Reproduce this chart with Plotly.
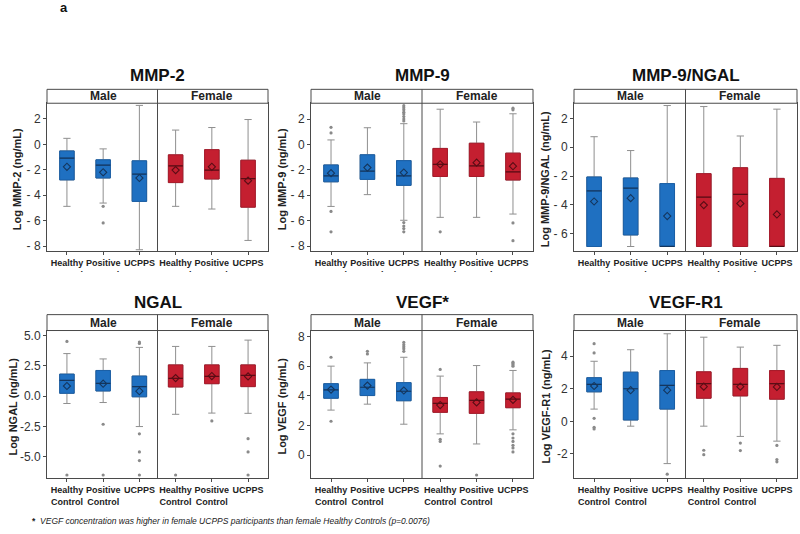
import plotly.graph_objects as go

# ---------------- data ----------------
CATEGORIES = ["Healthy<br>Control", "Positive<br>Control", "UCPPS",
              "Healthy<br>Control", "Positive<br>Control", "UCPPS"]
POSITIONS = [0, 1, 2, 3, 4, 5]
SEXES = ["Male", "Female"]
PANEL_TITLES = ["MMP-2", "MMP-9", "MMP-9/NGAL", "NGAL", "VEGF*", "VEGF-R1"]
Y_TITLES = ["Log MMP-2 (ng/mL)", "Log MMP-9 (ng/mL)", "Log MMP-9/NGAL (ng/mL)",
            "Log NGAL (ng/mL)", "Log VEGF (ng/mL)", "Log VEGF-R1 (ng/mL)"]

# order: Male HC, Male PC, Male UCPPS, Female HC, Female PC, Female UCPPS
mmp2_q1 = [-2.80, -2.65, -4.49, -3.01, -2.73, -4.94]
mmp2_med = [-1.09, -1.64, -2.34, -1.69, -2.03, -2.70]
mmp2_q3 = [-0.52, -1.22, -1.30, -0.83, -0.42, -1.25]
mmp2_lo = [-4.88, -4.62, -8.29, -4.88, -5.09, -7.56]
mmp2_hi = [0.47, -0.36, 3.06, 1.12, 1.32, 1.95]
mmp2_mean = [-1.77, -2.20, -2.65, -2.03, -1.77, -2.86]
mmp2_out = [[], [-4.88, -6.18], [], [], [], []]

mmp9_q1 = [-2.94, -2.75, -3.22, -2.52, -2.52, -2.80]
mmp9_med = [-2.47, -2.10, -2.47, -1.56, -1.69, -2.16]
mmp9_q3 = [-1.61, -0.81, -1.27, -0.31, 0.10, -0.68]
mmp9_lo = [-4.88, -3.95, -5.97, -5.74, -5.74, -5.48]
mmp9_hi = [0.36, 1.32, 1.64, 2.78, 1.77, 2.42]
mmp9_mean = [-2.26, -1.82, -2.21, -1.56, -1.43, -1.71]
mmp9_out = [[1.35, 0.91, -5.27, -6.88], [],
            [3.06, 2.90, 2.73, 2.55, 2.40, 2.20, 2.00, 1.85, -6.15, -6.42, -6.62, -6.88],
            [-6.88], [], [2.86, 2.73, -6.18, -7.58]]

ratio_q1 = [-6.88, -6.08, -6.88, -6.88, -6.88, -6.88]
ratio_med = [-3.03, -2.84, -6.88, -3.46, -3.26, -6.88]
ratio_q3 = [-2.06, -2.13, -2.52, -1.83, -1.42, -2.16]
ratio_lo = [-6.88, -6.88, -6.88, -6.88, -6.88, -6.88]
ratio_hi = [0.73, -0.23, 2.89, 2.82, 0.78, 2.64]
ratio_mean = [-3.76, -3.53, -4.77, -4.01, -3.90, -4.66]
ratio_out = [[], [], [], [], [], []]

ngal_q1 = [0.24, 0.43, -0.05, 0.76, 1.03, 0.79]
ngal_med = [1.30, 1.06, 0.79, 1.47, 1.63, 1.71]
ngal_q3 = [1.82, 2.12, 1.66, 2.58, 2.58, 2.58]
ngal_lo = [-0.60, -0.52, -2.50, -1.49, -1.39, -1.41]
ngal_hi = [3.51, 3.07, 4.02, 4.10, 4.10, 4.62]
ngal_mean = [0.84, 1.03, 0.41, 1.49, 1.66, 1.63]
ngal_out = [[4.51, -6.49], [-2.31, -6.49], [4.46, 4.35, -3.10, -4.59, -5.30, -6.49],
            [-6.49], [-2.04], [-3.50, -4.59, -6.49]]

vegf_q1 = [3.84, 4.02, 3.67, 2.89, 2.82, 3.20]
vegf_med = [4.40, 4.58, 4.31, 3.49, 3.69, 3.78]
vegf_q3 = [4.82, 5.11, 4.89, 3.89, 4.27, 4.20]
vegf_lo = [3.04, 3.44, 2.09, 1.44, 0.76, 1.71]
vegf_hi = [6.00, 6.22, 6.60, 5.33, 6.04, 5.71]
vegf_mean = [4.42, 4.69, 4.36, 3.38, 3.56, 3.73]
vegf_out = [[6.60, 2.29], [7.00, 6.82], [7.60, 7.44, 7.30, 7.18, 7.00],
            [5.78, 1.07, 0.93, -0.73], [-1.33],
            [6.27, 6.18, 6.09, 6.00, 1.44, 1.16, 0.93, 0.67, 0.49, 0.22]]

vegfr1_q1 = [1.81, 0.08, 0.75, 1.42, 1.56, 1.36]
vegfr1_med = [2.27, 2.00, 2.21, 2.31, 2.27, 2.31]
vegfr1_q3 = [2.68, 3.02, 3.12, 3.04, 3.25, 3.12]
vegfr1_lo = [0.75, -0.30, -2.60, -0.30, -0.93, -1.22]
vegfr1_hi = [3.69, 4.40, 5.38, 5.17, 4.56, 4.67]
vegfr1_mean = [2.17, 1.91, 1.91, 2.13, 2.13, 2.11]
vegfr1_out = [[4.77, 4.20, 0.18, -0.37, -0.47], [], [-3.25], [-1.78, -2.05],
              [-1.34, -1.80], [-1.48, -2.35, -2.49]]

Y_RANGES = [[-8.4, 3.23], [-8.4, 3.25], [-7.2, 3.05],
            [-6.77, 5.41], [-1.56, 8.4], [-3.51, 5.58]]
Y_TICKVALS = [[2, 0, -2, -4, -6, -8], [2, 0, -2, -4, -6, -8], [2, 0, -2, -4, -6],
              [5, 2.5, 0, -2.5, -5], [8, 6, 4, 2, 0], [4, 2, 0, -2]]
Y_TICKTEXT = [["2", "0", "- 2", "- 4", "- 6", "- 8"],
              ["2", "0", "- 2", "- 4", "- 6", "- 8"],
              ["2", "0", "- 2", "- 4", "- 6"],
              ["5.0", "2.5", "0.0", "-2.5", "-5.0"],
              ["8", "6", "4", "2", "0"],
              ["4", "2", "0", "-2"]]

FOOTNOTE = "VEGF concentration was higher in female UCPPS participants than female Healthy Controls (p=0.0076)"

panels = [
    (mmp2_q1, mmp2_med, mmp2_q3, mmp2_lo, mmp2_hi, mmp2_mean, mmp2_out),
    (mmp9_q1, mmp9_med, mmp9_q3, mmp9_lo, mmp9_hi, mmp9_mean, mmp9_out),
    (ratio_q1, ratio_med, ratio_q3, ratio_lo, ratio_hi, ratio_mean, ratio_out),
    (ngal_q1, ngal_med, ngal_q3, ngal_lo, ngal_hi, ngal_mean, ngal_out),
    (vegf_q1, vegf_med, vegf_q3, vegf_lo, vegf_hi, vegf_mean, vegf_out),
    (vegfr1_q1, vegfr1_med, vegfr1_q3, vegfr1_lo, vegfr1_hi, vegfr1_mean, vegfr1_out),
]

# ---------------- styling / layout ----------------
W, H = 800, 534
BOX_W = 0.4
FILL = ["#1f70c1"] * 3 + ["#c41f30"] * 3
EDGE = ["#1a5fa6"] * 3 + ["#a81a2a"] * 3
DARK = ["#14365e"] * 3 + ["#5a0d15"] * 3
WHISK = "#8f8f8f"
FRAME = "#4a4a4a"
SANS = "Liberation Sans, Arial, sans-serif"

COLS_PX = [(47, 268), (311, 533), (574, 797)]
ROWS_PX = [(102, 251), (331, 480)]
STRIP_TOP_PX = [88, 315]
TITLE_Y_PX = [74, 303]
YTITLE_X_PX = [17, 282, 545, 13, 282, 546]


def px_x(v):
    return v / W


def px_y(v):
    return 1 - v / H


fig = go.Figure()
shapes = []
annotations = []
layout_axes = {}

for i, (q1, med, q3, lo, hi, mean, outs) in enumerate(panels):
    r, c = divmod(i, 3)
    n = i + 1
    xa = "x" if n == 1 else f"x{n}"
    ya = "y" if n == 1 else f"y{n}"
    x0p, x1p = px_x(COLS_PX[c][0]), px_x(COLS_PX[c][1])
    yb, yt = px_y(ROWS_PX[r][1]), px_y(ROWS_PX[r][0])
    ys = px_y(STRIP_TOP_PX[r])

    med_x, med_y = [], []
    for g in range(6):
        # whiskers + box
        fig.add_trace(go.Box(
            x=[POSITIONS[g]], q1=[q1[g]], median=[med[g]], q3=[q3[g]],
            lowerfence=[lo[g]], upperfence=[hi[g]],
            width=BOX_W, whiskerwidth=0.5, fillcolor=FILL[g],
            line=dict(color=WHISK, width=1), boxpoints=False,
            xaxis=xa, yaxis=ya, hoverinfo="skip", showlegend=False))
        # box body with a slightly darker edge
        fig.add_trace(go.Box(
            x=[POSITIONS[g]], q1=[q1[g]], median=[med[g]], q3=[q3[g]],
            lowerfence=[q1[g]], upperfence=[q3[g]],
            width=BOX_W, whiskerwidth=0, fillcolor=FILL[g],
            line=dict(color=EDGE[g], width=1), boxpoints=False,
            xaxis=xa, yaxis=ya, hoverinfo="skip", showlegend=False))
        med_x += [POSITIONS[g] - BOX_W / 2, POSITIONS[g] + BOX_W / 2, None]
        med_y += [med[g], med[g], None]
        if outs[g]:
            fig.add_trace(go.Scatter(
                x=[POSITIONS[g]] * len(outs[g]), y=outs[g], mode="markers",
                marker=dict(color="#8a8a8a", size=3.2),
                xaxis=xa, yaxis=ya, hoverinfo="skip", showlegend=False))
    # medians (dark line across each box)
    fig.add_trace(go.Scatter(
        x=med_x[:9], y=med_y[:9], mode="lines", line=dict(color=DARK[0], width=1.2),
        xaxis=xa, yaxis=ya, hoverinfo="skip", showlegend=False))
    fig.add_trace(go.Scatter(
        x=med_x[9:], y=med_y[9:], mode="lines", line=dict(color=DARK[3], width=1.2),
        xaxis=xa, yaxis=ya, hoverinfo="skip", showlegend=False))
    # means
    fig.add_trace(go.Scatter(
        x=POSITIONS, y=mean, mode="markers",
        marker=dict(symbol="diamond-open", size=5.5, color=DARK,
                    line=dict(width=1.1, color=DARK)),
        xaxis=xa, yaxis=ya, hoverinfo="skip", showlegend=False))

    layout_axes["xaxis" if n == 1 else f"xaxis{n}"] = dict(
        domain=[x0p, x1p], anchor=ya, range=[-0.55, 5.55],
        tickmode="array", tickvals=POSITIONS, ticktext=CATEGORIES,
        tickangle=0,
        tickfont=dict(family=SANS, size=9, color="#222", weight="bold"),
        ticks="outside", ticklen=3, tickcolor=FRAME,
        showline=True, linecolor=FRAME, linewidth=1, mirror=True,
        showgrid=False, zeroline=False, fixedrange=True)
    layout_axes["yaxis" if n == 1 else f"yaxis{n}"] = dict(
        domain=[yb, yt], anchor=xa, range=Y_RANGES[i],
        tickmode="array", tickvals=Y_TICKVALS[i], ticktext=Y_TICKTEXT[i],
        tickfont=dict(family=SANS, size=12, color="#333"),
        ticks="outside", ticklen=3, tickcolor=FRAME,
        showline=True, linecolor=FRAME, linewidth=1, mirror=True,
        showgrid=False, zeroline=False, fixedrange=True)

    # strip box
    shapes.append(dict(type="rect", xref="paper", yref="paper",
                       x0=x0p, x1=x1p, y0=yt, y1=ys,
                       line=dict(color=FRAME, width=1), fillcolor="white"))
    # facet divider
    shapes.append(dict(type="line", xref=xa, yref="paper",
                       x0=2.5, x1=2.5, y0=yb, y1=ys,
                       line=dict(color=FRAME, width=1)))
    for k, sx in enumerate(SEXES):
        annotations.append(dict(text=f"<b>{sx}</b>", xref=xa, yref="paper",
                                x=1 + 3 * k, y=(yt + ys) / 2, showarrow=False,
                                font=dict(family=SANS, size=12, color="#222"),
                                xanchor="center", yanchor="middle"))
    annotations.append(dict(text=f"<b>{PANEL_TITLES[i]}</b>", xref="paper", yref="paper",
                            x=(x0p + x1p) / 2, y=px_y(TITLE_Y_PX[r]), showarrow=False,
                            font=dict(family=SANS, size=17, color="#111"),
                            xanchor="center", yanchor="middle"))
    annotations.append(dict(text=f"<b>{Y_TITLES[i]}</b>", xref="paper", yref="paper",
                            x=px_x(YTITLE_X_PX[i]), y=(yb + yt) / 2 - 0.004,
                            showarrow=False, textangle=-90,
                            font=dict(family=SANS, size=11, color="#222"),
                            xanchor="center", yanchor="middle"))

# the top row's second label line is cropped in the original figure
shapes.append(dict(type="rect", xref="paper", yref="paper", layer="above",
                   x0=0, x1=1, y0=px_y(292), y1=px_y(272),
                   line=dict(width=0), fillcolor="white"))

annotations.append(dict(text="<b>a</b>", xref="paper", yref="paper",
                        x=px_x(58), y=px_y(6), showarrow=False,
                        font=dict(family=SANS, size=13, color="#111"),
                        xanchor="left", yanchor="middle"))
annotations.append(dict(text=f"<b>*</b>  <i>{FOOTNOTE}</i>", xref="paper", yref="paper",
                        x=px_x(30), y=px_y(523), showarrow=False,
                        font=dict(family=SANS, size=8.5, color="#222"),
                        xanchor="left", yanchor="middle"))

fig.update_layout(
    width=W, height=H, margin=dict(l=0, r=0, t=0, b=0),
    paper_bgcolor="white", plot_bgcolor="white",
    showlegend=False, boxmode="overlay",
    shapes=shapes, annotations=annotations, **layout_axes)

fig.write_html("out.html", config={"displayModeBar": False},
               post_script="document.body.style.margin='0';")
